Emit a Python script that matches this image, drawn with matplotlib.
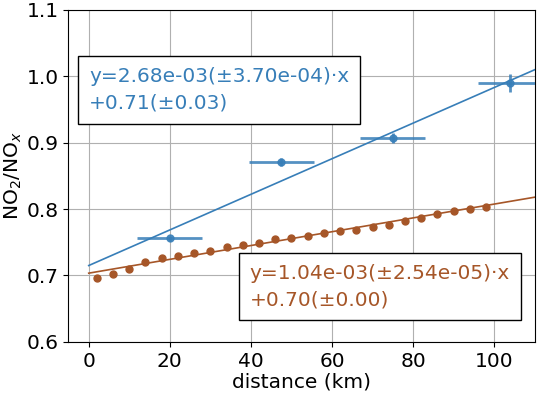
import matplotlib
matplotlib.use('Agg')
import matplotlib.pyplot as plt
import numpy as np

# aircraft/plume points (blue) with error bars
blue_x = [20, 47.5, 75, 104]
blue_y = [0.756, 0.871, 0.907, 0.990]
blue_xerr = [8, 8, 8, 8]
blue_yerr = [0.004, 0.006, 0.007, 0.013]

# model points (brown)
brown_x = [2, 6, 10, 14, 18, 22, 26, 30, 34, 38, 42, 46, 50, 54, 58, 62, 66, 70, 74, 78, 82, 86, 90, 94, 98]
brown_y = [0.696, 0.702, 0.710, 0.720, 0.727, 0.729, 0.734, 0.737, 0.743, 0.746, 0.749, 0.755, 0.757,
           0.760, 0.764, 0.767, 0.769, 0.773, 0.776, 0.782, 0.787, 0.793, 0.797, 0.800, 0.803]

blue_fit = (2.68e-3, 0.715)
brown_fit = (1.04e-3, 0.7035)

c_blue = '#377eb8'
c_brown = '#a65628'

plt.rcParams['font.size'] = 14.5
fig, ax = plt.subplots(figsize=(5.39, 3.93), dpi=100)

ax.errorbar(blue_x, blue_y, xerr=blue_xerr, yerr=blue_yerr, fmt='o', color=c_blue,
            ecolor=c_blue, elinewidth=2, ms=5, alpha=0.85, zorder=3)
ax.plot(brown_x, brown_y, 'o', color=c_brown, ms=5, zorder=3)

xx = np.array([0, 115])
ax.plot(xx, blue_fit[0] * xx + blue_fit[1], color=c_blue, lw=1.2)
ax.plot(xx, brown_fit[0] * xx + brown_fit[1], color=c_brown, lw=1.2)

ax.text(0.044, 0.827, 'y=2.68e-03(±3.70e-04)·x\n+0.71(±0.03)', transform=ax.transAxes,
        color=c_blue, fontsize=14.5, va='top', ha='left', linespacing=1.5,
        bbox=dict(facecolor='white', edgecolor='black', pad=8))
ax.text(0.389, 0.235, 'y=1.04e-03(±2.54e-05)·x\n+0.70(±0.00)', transform=ax.transAxes,
        color=c_brown, fontsize=14.5, va='top', ha='left', linespacing=1.5,
        bbox=dict(facecolor='white', edgecolor='black', pad=8))

ax.set_xlim(-5, 110)
ax.set_ylim(0.6, 1.1)
ax.set_xticks([0, 20, 40, 60, 80, 100])
ax.set_yticks(np.arange(0.6, 1.11, 0.1))
ax.grid(True, color='#b0b0b0', lw=0.8)
ax.set_axisbelow(True)
ax.set_xlabel('distance (km)', labelpad=1)
ax.set_ylabel('NO$_2$/NO$_x$', labelpad=2)

plt.subplots_adjust(left=0.127, right=0.992, top=0.975, bottom=0.13)
plt.savefig('out.png', dpi=100)
